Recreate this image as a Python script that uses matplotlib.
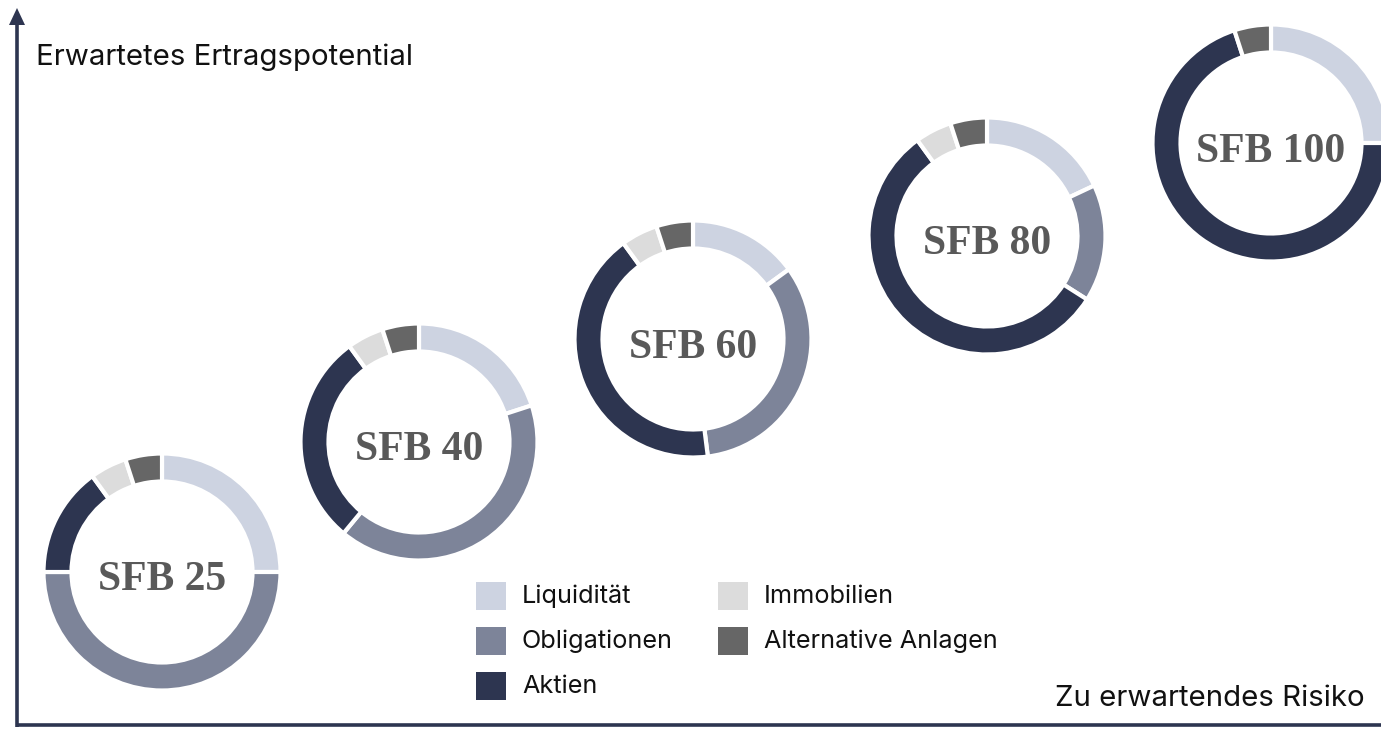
import matplotlib
matplotlib.use("Agg")
import matplotlib.pyplot as plt
from matplotlib.patches import Rectangle

# Anteile je Strategie (im Uhrzeigersinn ab 12 Uhr), Werte in %
strategien = ["SFB 25", "SFB 40", "SFB 60", "SFB 80", "SFB 100"]
klassen = ["Liquidität", "Obligationen", "Aktien", "Immobilien", "Alternative Anlagen"]
liquiditaet = [25, 20, 15, 18, 25]
obligationen = [50, 41, 33, 16, 0]
aktien = [15, 29, 42, 56, 70]
immobilien = [5, 5, 5, 5, 0]
alternative = [5, 5, 5, 5, 5]

farben = ["#cdd3e1", "#7d8499", "#2d3550", "#dcdcdc", "#666666"]
navy = "#2d3550"

W, H = 1381, 730
# Mittelpunkte der Ringe in Bildpixeln (x, y von oben)
zentren = [(162, 572), (419, 442), (693, 339), (987, 236), (1271, 143)]
R = 118.5
RING = 28

fig = plt.figure(figsize=(W / 100, H / 100), dpi=100)
ax = fig.add_axes([0, 0, 1, 1])

for i, name in enumerate(strategien):
    werte = [liquiditaet[i], obligationen[i], aktien[i], immobilien[i], alternative[i]]
    paare = [(v, c) for v, c in zip(werte, farben) if v > 0]
    cx, cy = zentren[i]
    ax.pie([p[0] for p in paare], colors=[p[1] for p in paare],
           startangle=90, counterclock=False, radius=R, center=(cx, H - cy),
           wedgeprops=dict(width=RING, edgecolor="white", linewidth=3))
    ax.text(cx, H - cy - 18.5, name, ha="center", va="baseline",
            fontsize=30, family="Liberation Serif",
            fontweight="bold", color="#595959")

# Achsen mit Pfeil
ax.plot([17, W + 5], [H - 725, H - 725], color=navy, lw=2.6, solid_capstyle="butt")
ax.plot([17, 17], [H - 727, H - 22], color=navy, lw=2.6, solid_capstyle="butt")
ax.add_patch(plt.Polygon([[9, H - 25], [25, H - 25], [17, H - 8]], closed=True,
                         color=navy, lw=0))

ax.text(36, H - 65, "Erwartetes Ertragspotential", fontsize=21.2, family="Inter",
        ha="left", va="baseline", color="#111111")
ax.text(1365, H - 706, "Zu erwartendes Risiko", fontsize=21.2, family="Inter",
        ha="right", va="baseline", color="#111111")

# Legende
leg_pos = [(476, 582), (476, 627), (476, 672), (718, 582), (718, 627)]
for (lx, ly), name, farbe in zip(leg_pos, klassen, farben):
    ax.add_patch(Rectangle((lx, H - ly - 28), 30, 28, color=farbe, lw=0))
    ax.text(lx + 46, H - ly - 21, name, fontsize=18.2, family="Inter",
            ha="left", va="baseline", color="#111111")

ax.set_xlim(0, W)
ax.set_ylim(0, H)
ax.set_aspect("auto")
ax.axis("off")

fig.savefig("out.png", dpi=100, facecolor="white")
